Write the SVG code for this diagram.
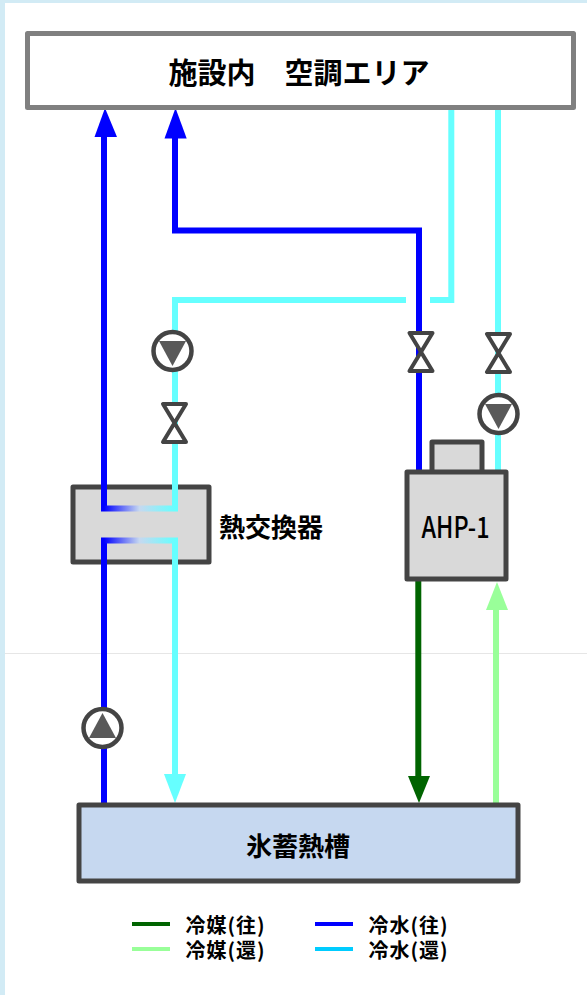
<svg xmlns="http://www.w3.org/2000/svg" width="587" height="995" viewBox="0 0 587 995">
<style>
.t{font-family:"Noto Sans CJK JP","Noto Sans",sans-serif;font-weight:700;fill:#000;text-anchor:middle}
.b{fill:#d9d9d9;stroke:#444;stroke-width:5;stroke-linejoin:round}
.p{fill:none;stroke-width:6;stroke-linejoin:miter}
.v{fill:#fff;stroke:#444;stroke-width:4;stroke-linejoin:round}
.pc{fill:#fff;stroke:#444;stroke-width:4.5}
.pt{fill:#595959}
</style>
<defs>
<linearGradient id="g1" gradientUnits="userSpaceOnUse" x1="104" y1="0" x2="175" y2="0"><stop offset="0" stop-color="#00f"/><stop offset="0.5" stop-color="#c6d8f0"/><stop offset="1" stop-color="#66ffff"/></linearGradient>
<g id="valve"><path class="v" d="M-11.500-19H11.500L-11.500 19H11.500Z"/></g>
</defs>
<rect width="587" height="995" fill="#d2ebf5"/>
<rect x="5" y="3" width="582" height="992" fill="#fff"/>
<rect x="5" y="653" width="582" height="1" fill="#e6e6e6"/>
<g id="connectors">
<path class="p" stroke="#00f" d="M104 132V490"/><path d="M105 108L117 137H94.500Z" fill="#00f"/>
<path class="p" stroke="#00f" d="M175 132V230.500H419V475"/><path d="M175.500 108L186.700 138.500H164.500Z" fill="#00f"/>
<path class="p" stroke="#66ffff" d="M451.300 108V300H430M406 300H175V490"/>
<path class="p" stroke="#66ffff" d="M498 108V475"/>
<path class="p" stroke="#00f" d="M104 560V805"/>
<path class="p" stroke="#66ffff" d="M175 560V785"/><path d="M175 803L164 774H186Z" fill="#66ffff"/>
<path class="p" stroke="#006400" d="M418.300 578V785"/><path d="M419 803L408 776H430Z" fill="#006400"/>
<path class="p" stroke="#99ff99" d="M496 600V803"/><path d="M497 582L508 610H486Z" fill="#99ff99"/>
</g>
<g id="area"><rect x="27.500" y="33.500" width="546" height="74" fill="#fff" stroke="#808080" stroke-width="5" stroke-linejoin="round"/><text class="t" x="299" y="84" font-size="29">施設内　空調エリア</text></g>
<g id="hx"><rect class="b" x="73" y="487" width="136" height="75"/>
<path class="p" stroke="#00f" d="M104 484V508.500"/><path class="p" stroke="#66ffff" d="M175 484V508.500"/>
<path class="p" stroke="url(#g1)" d="M101 508.500H178"/>
<path class="p" stroke="#00f" d="M104 565V540.500"/><path class="p" stroke="#66ffff" d="M175 565V540.500"/>
<path class="p" stroke="url(#g1)" d="M101 540.500H178"/>
<text class="t" x="271" y="536.500" font-size="26">熱交換器</text></g>
<g id="ahp"><rect class="b" x="432" y="442" width="50" height="32"/><rect class="b" x="407" y="472" width="99" height="107"/><text x="455.500" y="538" font-family="Noto Sans CJK JP,Noto Sans,sans-serif" font-size="29" font-weight="500" text-anchor="middle" textLength="68" lengthAdjust="spacingAndGlyphs" fill="#000">AHP-1</text></g>
<g id="tank"><rect x="79" y="805" width="439" height="76" fill="#c6d8f0" stroke="#444" stroke-width="5" stroke-linejoin="round"/><text class="t" x="298" y="856" font-size="26">氷蓄熱槽</text></g>
<use id="valve1" href="#valve" x="174.500" y="423"/>
<use id="valve2" href="#valve" x="421" y="352"/>
<use id="valve3" href="#valve" x="498.500" y="353"/>
<g id="pump1"><circle class="pc" cx="172.500" cy="351" r="19"/><path class="pt" d="M159 341H186L172.500 366Z"/></g>
<g id="pump2"><circle class="pc" cx="498.500" cy="414" r="19"/><path class="pt" d="M485 404H512L498.500 429Z"/></g>
<g id="pump3"><circle class="pc" cx="102.500" cy="728" r="19"/><path class="pt" d="M89 738H116L102.500 713Z"/></g>
<g id="legend">
<path stroke="#006400" stroke-width="4" d="M132 924H170"/><path stroke="#99ff99" stroke-width="4" d="M132 949H170"/>
<path stroke="#00f" stroke-width="4" d="M315 924H353"/><path stroke="#00ccff" stroke-width="4" d="M315 949H353"/>
<text class="t" x="225" y="933" font-size="20" textLength="79">冷媒(往)</text><text class="t" x="225" y="958" font-size="20" textLength="79">冷媒(還)</text>
<text class="t" x="408" y="933" font-size="20" textLength="79">冷水(往)</text><text class="t" x="408" y="958" font-size="20" textLength="79">冷水(還)</text>
</g>
</svg>
